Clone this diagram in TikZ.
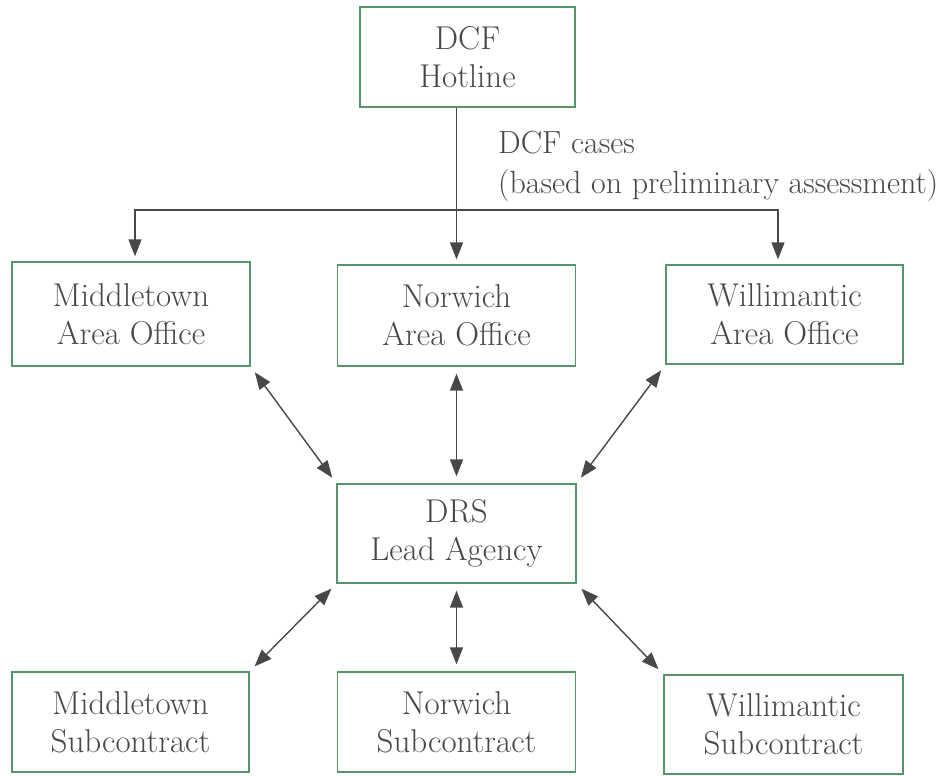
\documentclass[tikz,border=0pt]{standalone}
\usepackage[dvipsnames]{xcolor}
\usepackage{tikz}
\usetikzlibrary{positioning}
\usetikzlibrary{arrows.meta}

\definecolor{boxgreen}{RGB}{86,150,106}
\definecolor{inkgray}{RGB}{72,72,72}
\tikzset{
  office/.style={draw=boxgreen,line width=1.3pt,text=inkgray,align=center,
    inner sep=0pt,font=\fontsize{33}{38}\selectfont},
  feed/.style={draw=inkgray,line width=1.4pt,-{Triangle[length=17pt,width=13pt]},
    shorten >=5pt},
  link/.style={draw=inkgray,line width=1.4pt,
    {Triangle[length=17pt,width=13pt]}-{Triangle[length=17pt,width=13pt]},
    shorten <=7pt,shorten >=7pt}
}

\begin{document}
\begin{tikzpicture}[x=1pt,y=-1pt]
\useasboundingbox (0,0) rectangle (942,776);
% hotline
\node[office,minimum width=215pt,minimum height=100pt] (hot) at (467.5,57) {DCF\\Hotline};
\node[text=inkgray,align=left,anchor=north west,inner sep=0pt,
  font=\fontsize{32}{40}\selectfont] (cases) at (498,131)
  {DCF cases\\(based on preliminary assessment)};
% area offices
\node[office,minimum width=238pt,minimum height=104pt] (mao) at (131,314) {Middletown\\Area Office};
\node[office,minimum width=238pt,minimum height=101pt] (nao) at (456.5,315.5) {Norwich\\Area Office};
\node[office,minimum width=237pt,minimum height=99pt] (wao) at (784.5,314.5) {Willimantic\\Area Office};
% lead agency
\node[office,minimum width=239pt,minimum height=99pt] (drs) at (456.5,533.5) {DRS\\Lead Agency};
% subcontracts
\node[office,minimum width=237pt,minimum height=100pt] (msub) at (130.5,722) {Middletown\\Subcontract};
\node[office,minimum width=238pt,minimum height=100pt] (nsub) at (456.5,722) {Norwich\\Subcontract};
\node[office,minimum width=239pt,minimum height=99pt] (wsub) at (783.5,724.5) {Willimantic\\Subcontract};

\coordinate (split) at (456.5,210);
\draw[feed] (hot.south -| split) -- (nao.north);
\draw[feed] (split) -| ([xshift=4pt]mao.north);
\draw[feed] (split) -| ([xshift=-6.5pt]wao.north);

\draw[link] (mao.south east) -- (drs.north west);
\draw[link] (nao.south) -- (drs.north);
\draw[link] (wao.south west) -- (drs.north east);
\draw[link] (drs.south west) -- (msub.north east);
\draw[link] (drs.south) -- (nsub.north);
\draw[link] (drs.south east) -- (wsub.north west);
\end{tikzpicture}
\end{document}
